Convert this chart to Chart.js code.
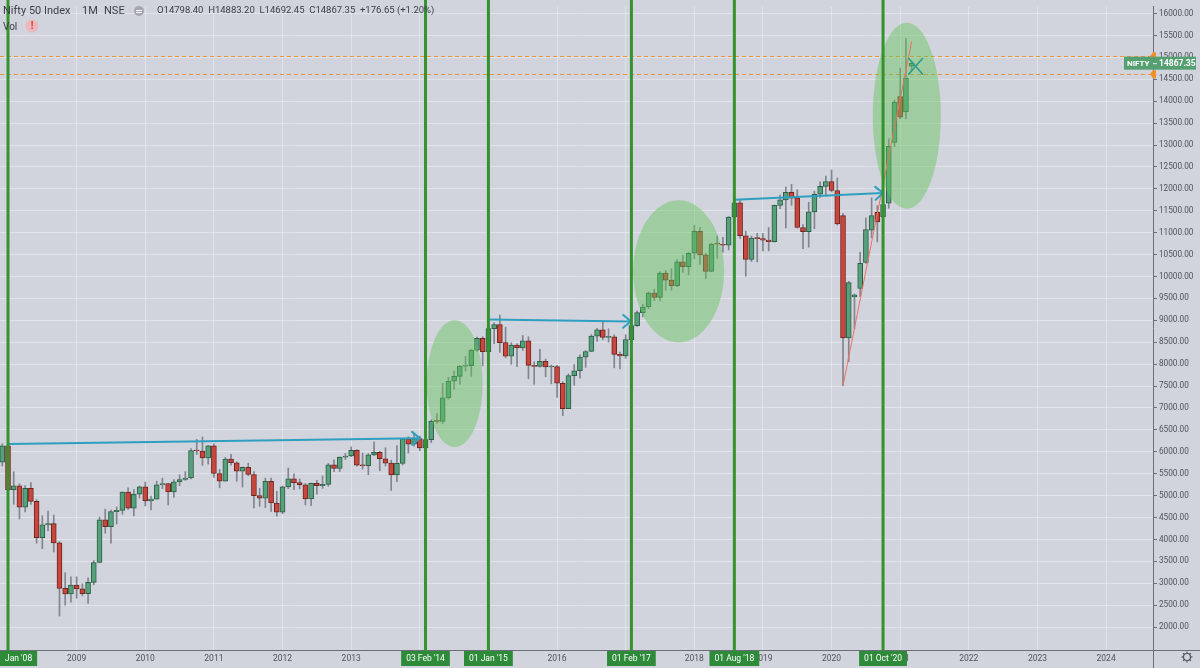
<!DOCTYPE html>
<html><head><meta charset="utf-8">
<script src="https://cdn.jsdelivr.net/npm/chart.js@4.4.0/dist/chart.umd.min.js"></script>
<style>html,body{margin:0;padding:0;background:#d1d4dc;overflow:hidden}#wrap{width:1200px;height:668px;position:relative}canvas{display:block}</style>
</head><body><div id="wrap"><canvas id="c" width="1200" height="668"></canvas></div>
<script>
// Month index 0 = Jan 2008; first candle is Dec 2007 (index -1)
const firstMonth = -1;
const opens = [5762,
6136,5137,5223,4735,5166,4870,4040,4333,4360,3921,2885,2755,
2959,2874,2763,3021,3474,4449,4291,4636,4662,5084,4712,5033,
5201,4882,4922,5249,5278,5087,5313,5368,5402,6030,6018,5863,
6135,5506,5333,5834,5750,5560,5647,5482,5001,4943,5327,4832,
4624,5199,5385,5296,5248,4924,5279,5229,5258,5703,5620,5880,
5905,6035,5693,5683,5930,5986,5842,5742,5471,5735,6299,6176,
6304,6090,6277,6704,6696,7230,7611,7721,7954,7965,8322,8588,
8283,8809,8902,8491,8182,8434,8369,8533,7971,7949,8066,7935,
7946,7564,6987,7738,7850,8160,8288,8639,8786,8611,8626,8224,
8186,8561,8880,9174,9304,9621,9521,10077,9918,9788,10335,10227,
10531,11028,10493,10114,10739,10736,10714,11357,11681,10930,10387,10877,
10863,10831,10793,11624,11748,11923,11789,11118,11023,11474,11877,12056,
12168,11962,11388,8598,9533,9726,10323,11057,11464,11364,11672,13062,
14104,13758,14798.4];
const highs = [6185,
6357,5545,5272,5230,5298,4908,4539,4649,4558,3950,3240,3147,
3147,2987,3123,3518,4509,4693,4670,4743,5087,5181,5138,5221,
5310,4992,5329,5400,5278,5366,5477,5549,6073,6284,6339,6147,
6182,5599,5872,5944,5775,5657,5740,5551,5169,5399,5400,5099,
5217,5629,5499,5379,5279,5286,5349,5448,5735,5815,5885,5965,
6111,6053,5971,5962,6229,6012,6093,5808,6142,6309,6342,6415,
6358,6282,6730,6870,7563,7700,7841,7968,8180,8331,8617,8627,
8996,8941,9119,8844,8490,8468,8655,8622,8055,8336,8116,7979,
7972,7600,7777,7992,8213,8308,8674,8819,8968,8806,8669,8274,
8672,8982,9218,9367,9650,9709,10115,10138,10179,10384,10490,10552,
11171,11117,10525,10759,10929,10893,11366,11760,11752,11035,10922,10985,
10987,11118,11630,11856,12041,12103,11981,11182,11695,11945,12159,12294,
12430,12246,11433,9889,9598,10553,11341,11794,11618,12025,13145,14024,
14754,15432,14883.2];
const lows = [5677,
4448,4803,4468,4628,4802,3918,3790,4201,3715,2252,2502,2571,
2661,2713,2539,2965,3468,4143,3918,4353,4576,4687,4538,4943,
4766,4675,4920,5160,4786,4961,5226,5349,5380,5937,5690,5721,
5416,5178,5330,5693,5328,5196,5453,4720,4758,4728,4639,4531,
4588,5159,5135,5154,4789,4770,5033,5164,5215,5548,5548,5823,
5888,5671,5605,5477,5910,5566,5676,5118,5318,5701,5972,6130,
6027,5933,6212,6650,6638,7200,7422,7540,7841,7723,8290,7961,
8065,8470,8269,8145,7997,7940,8315,7667,7540,7930,7714,7551,
7241,6826,6987,7517,7679,7927,8287,8518,8555,8506,7916,7894,
8133,8537,8860,9075,9270,9448,9448,9686,9687,9770,10094,10033,
10404,10276,9952,10111,10418,10557,10605,11300,10867,10005,10341,10334,
10583,10586,10785,11549,11108,11625,11107,10637,10670,11090,11802,11832,
11929,11175,7511,8055,8806,9544,10299,10882,10790,11347,11557,12962,
13597,13597,14692.45];
const closes = [6139,
5137,5224,4735,5166,4870,4040,4333,4360,3921,2885,2755,2959,
2874,2763,3021,3474,4449,4291,4636,4662,5084,4712,5033,5201,
4882,4922,5249,5278,5087,5313,5368,5402,6030,6018,5863,6135,
5506,5333,5834,5750,5560,5647,5482,5001,4943,5327,4832,4624,
5199,5385,5296,5248,4924,5279,5229,5258,5703,5620,5880,5905,
6035,5693,5683,5930,5986,5842,5742,5471,5735,6299,6176,6304,
6090,6277,6704,6696,7230,7611,7721,7954,7965,8322,8588,8283,
8809,8902,8491,8182,8434,8369,8533,7971,7949,8066,7935,7946,
7564,6987,7738,7850,8160,8288,8639,8786,8611,8626,8224,8186,
8561,8880,9174,9304,9621,9521,10077,9918,9788,10335,10227,10531,
11028,10493,10114,10739,10736,10714,11357,11681,10930,10387,10877,10863,
10831,10793,11624,11748,11923,11789,11118,11023,11474,11877,12056,12168,
11962,11202,8598,9860,9580,10302,11073,11388,11248,11642,12969,13982,
13635,14529,14867.35];

const yearLabels = ['2008','2009','2010','2011','2012','2013','2014','2015','2016','2017','2018','2019','2020','2021','2022','2023','2024'];
const priceTicks = [2000,2500,3000,3500,4000,4500,5000,5500,6000,6500,7000,7500,8000,8500,9000,9500,10000,10500,11000,11500,12000,12500,13000,13500,14000,14500,15000,15500,16000];

// Marked dates (month index, label)
const markerMonths = [0,73,84,109,127,153];
const markerLabels = ["Jan '08","03 Feb '14","01 Jan '15","01 Feb '17","01 Aug '18","01 Oct '20"];

// Horizontal arrows
const arrowStartMonths = [0,84,127];
const arrowStartValues = [6180,9018,11749];
const arrowEndMonths = [72,108.9,153];
const arrowEndValues = [6310,8973,11907];

// Highlight ellipses
const ellipseMonthMin = [73.2,109.3,151.2];
const ellipseMonthMax = [83.0,125.2,163.1];
const ellipseValueMin = [6108,8496,11546];
const ellipseValueMax = [9003,11740,15790];

// Trend line
const trendMonths = [146,158];
const trendValues = [7511,15361];

// Dashed levels
const levelValues = [15023,14616];
const lastPrice = 14867.35;
const markMonth = 158.7, markValue = 14797;

const BG = '#d1d4dc';
const UP = '#56a07c', UP_B = '#2d5e45';
const DN = '#c9463d', DN_B = '#6e2420';
const WICK = '#80858f';
const GREENLINE = '#34932f';
const TEAL = '#2e9fc0';

const bodyData = [], wickData = [];
for (let i = 0; i < closes.length; i++) {
  const m = firstMonth + i;
  bodyData.push({x: m, y: [opens[i], closes[i]]});
  wickData.push({x: m, y: [lows[i], highs[i]]});
}

const FONT = 'Roboto, "Open Sans", sans-serif';

const overlay = {
  id: 'overlay',
  beforeDraw(chart) {
    const c = chart.ctx; c.save(); c.fillStyle = BG; c.fillRect(0, 0, chart.width, chart.height); c.restore();
  },
  afterDatasetsDraw(chart) {
    const {ctx, chartArea: a, scales: {x, y}} = chart;
    ctx.save();
    ctx.beginPath(); ctx.rect(a.left, a.top, a.right - a.left, a.bottom - a.top); ctx.clip();
    ctx.strokeStyle = '#e8953a'; ctx.lineWidth = 1; ctx.setLineDash([4, 3]);
    levelValues.forEach(v => { const py = Math.round(y.getPixelForValue(v)) + 0.5; ctx.beginPath(); ctx.moveTo(a.left, py); ctx.lineTo(a.right, py); ctx.stroke(); });
    ctx.setLineDash([]);
    ctx.fillStyle = 'rgba(100,195,90,0.45)';
    for (let i = 0; i < ellipseMonthMin.length; i++) {
      const x1 = x.getPixelForValue(ellipseMonthMin[i]), x2 = x.getPixelForValue(ellipseMonthMax[i]);
      const y1 = y.getPixelForValue(ellipseValueMax[i]), y2 = y.getPixelForValue(ellipseValueMin[i]);
      ctx.beginPath(); ctx.ellipse((x1 + x2) / 2, (y1 + y2) / 2, (x2 - x1) / 2, (y2 - y1) / 2, 0, 0, Math.PI * 2); ctx.fill();
    }
    ctx.strokeStyle = '#f07060'; ctx.lineWidth = 1;
    ctx.beginPath(); ctx.moveTo(x.getPixelForValue(trendMonths[0]), y.getPixelForValue(trendValues[0]));
    ctx.lineTo(x.getPixelForValue(trendMonths[1]), y.getPixelForValue(trendValues[1])); ctx.stroke();
    ctx.strokeStyle = TEAL; ctx.lineWidth = 2; ctx.lineCap = 'round';
    for (let i = 0; i < arrowStartMonths.length; i++) {
      const x1 = x.getPixelForValue(arrowStartMonths[i]), y1 = y.getPixelForValue(arrowStartValues[i]);
      const x2 = x.getPixelForValue(arrowEndMonths[i]), y2 = y.getPixelForValue(arrowEndValues[i]);
      ctx.beginPath(); ctx.moveTo(x1, y1); ctx.lineTo(x2, y2); ctx.stroke();
      const ang = Math.atan2(y2 - y1, x2 - x1), L = 10, w = 0.7;
      ctx.beginPath();
      ctx.moveTo(x2 - L * Math.cos(ang - w), y2 - L * Math.sin(ang - w));
      ctx.lineTo(x2, y2);
      ctx.lineTo(x2 - L * Math.cos(ang + w), y2 - L * Math.sin(ang + w));
      ctx.stroke();
    }
    const mx = x.getPixelForValue(markMonth), my = y.getPixelForValue(markValue);
    ctx.strokeStyle = '#2a9a8a'; ctx.lineWidth = 1.5;
    ctx.beginPath(); ctx.moveTo(mx - 7, my - 8); ctx.lineTo(mx + 7, my + 8); ctx.moveTo(mx + 7, my - 8); ctx.lineTo(mx - 7, my + 8); ctx.stroke();
    ctx.restore();
  },
  afterDraw(chart) {
    const {ctx, chartArea: a, scales: {x, y}} = chart;
    ctx.save();
    ctx.strokeStyle = '#6b6e78'; ctx.lineWidth = 1;
    ctx.beginPath(); ctx.moveTo(a.right, a.bottom + 0.5); ctx.lineTo(chart.width, a.bottom + 0.5); ctx.stroke();
    ctx.beginPath(); ctx.moveTo(a.right + 0.5, a.bottom); ctx.lineTo(a.right + 0.5, chart.height); ctx.stroke();
    ctx.font = '8.5px ' + FONT; ctx.textBaseline = 'middle'; ctx.textAlign = 'center';
    markerMonths.forEach((m, i) => {
      const px = x.getPixelForValue(m);
      ctx.strokeStyle = GREENLINE; ctx.lineWidth = 3;
      ctx.beginPath(); ctx.moveTo(px, 0); ctx.lineTo(px, a.bottom + 2); ctx.stroke();
      const tw = ctx.measureText(markerLabels[i]).width + 10;
      let bx = px - tw / 2; if (bx < 0) bx = 0;
      ctx.fillStyle = '#2e8b3a'; ctx.fillRect(bx, a.bottom + 1, tw, 15);
      ctx.fillStyle = '#ffffff'; ctx.fillText(markerLabels[i], bx + tw / 2, a.bottom + 9);
    });
    ctx.fillStyle = '#f0902a';
    levelValues.forEach(v => { const py = y.getPixelForValue(v); ctx.beginPath(); ctx.moveTo(a.right - 3, py); ctx.lineTo(a.right, py - 4); ctx.lineTo(a.right + 3, py - 4); ctx.lineTo(a.right + 3, py + 4); ctx.lineTo(a.right, py + 4); ctx.closePath(); ctx.fill(); });
    const lp = y.getPixelForValue(lastPrice);
    ctx.fillStyle = '#55a070'; ctx.fillRect(a.right - 29, lp - 6.5, 72, 13);
    ctx.strokeStyle = '#e8ece9'; ctx.lineWidth = 1; ctx.beginPath(); ctx.moveTo(a.right, lp + 0.5); ctx.lineTo(a.right + 4, lp + 0.5); ctx.stroke();
    ctx.fillStyle = '#ffffff'; ctx.textAlign = 'left';
    ctx.font = 'bold 8px ' + FONT; ctx.fillText('NIFTY', a.right - 26, lp + 0.5);
    ctx.font = 'bold 8.5px ' + FONT; ctx.fillText(lastPrice.toFixed(2), a.right + 6, lp + 0.5);
    ctx.fillStyle = '#3b3e48'; ctx.textBaseline = 'middle';
    ctx.font = '11px ' + FONT; ctx.fillText('Nifty 50 Index', 3, 11);
    ctx.fillText('1M', 82, 11); ctx.fillText('NSE', 104, 11);
    ctx.fillStyle = '#a3a6b0'; ctx.beginPath(); ctx.arc(139, 11, 5, 0, Math.PI * 2); ctx.fill();
    ctx.strokeStyle = '#ffffff'; ctx.lineWidth = 1; ctx.beginPath(); ctx.moveTo(136, 10.5); ctx.lineTo(142, 10.5); ctx.moveTo(136, 12.5); ctx.lineTo(142, 12.5); ctx.stroke();
    ctx.fillStyle = '#3b3e48'; ctx.font = '9.5px ' + FONT;
    ctx.fillText('O14798.40  H14883.20  L14692.45  C14867.35  +176.65 (+1.20%)', 157, 11);
    ctx.font = '10px ' + FONT; ctx.fillText('Vol', 3, 27);
    ctx.fillStyle = '#eab8bd'; ctx.beginPath(); ctx.arc(32, 26, 6.5, 0, Math.PI * 2); ctx.fill();
    ctx.fillStyle = '#e03a3a'; ctx.font = 'bold 10px ' + FONT; ctx.textAlign = 'center'; ctx.fillText('!', 32, 26.5);
    const gx = 1187, gy = 657;
    ctx.strokeStyle = '#50535e'; ctx.lineWidth = 1.2;
    ctx.beginPath(); ctx.arc(gx, gy, 3.5, 0, Math.PI * 2); ctx.stroke();
    for (let k = 0; k < 8; k++) { const an = k * Math.PI / 4; ctx.beginPath(); ctx.moveTo(gx + 3.5 * Math.cos(an), gy + 3.5 * Math.sin(an)); ctx.lineTo(gx + 5.5 * Math.cos(an), gy + 5.5 * Math.sin(an)); ctx.stroke(); }
    ctx.restore();
  }
};

new Chart(document.getElementById('c'), {
  type: 'bar',
  data: {
    datasets: [
      {label: 'wick', data: wickData, backgroundColor: WICK, borderWidth: 0, barThickness: 1, grouped: false, order: 2},
      {label: 'body', data: bodyData, grouped: false, order: 1, barThickness: 5, borderWidth: 1, borderSkipped: false, minBarLength: 1,
        backgroundColor: ctx => { const i = ctx.dataIndex; return closes[i] >= opens[i] ? UP : DN; },
        borderColor: ctx => { const i = ctx.dataIndex; return closes[i] >= opens[i] ? UP_B : DN_B; }}
    ]
  },
  options: {
    responsive: false, animation: false, devicePixelRatio: 1,
    layout: {padding: 0},
    plugins: {legend: {display: false}, tooltip: {enabled: false}},
    scales: {
      x: {
        type: 'linear', position: 'bottom', min: -1.4, max: 200.2, offset: false,
        afterBuildTicks: s => { s.ticks = yearLabels.map((l, i) => ({value: i * 12})); },
        afterFit: s => { s.height = 18; },
        grid: {color: 'rgba(236,238,243,0.55)', drawTicks: false, offset: false},
        border: {display: true, color: '#6b6e78'},
        ticks: {autoSkip: false, maxRotation: 0, padding: 4, color: '#50535e', font: {family: FONT, size: 8.5},
          callback: v => v === 0 ? '' : yearLabels[Math.round(v / 12)]}
      },
      y: {
        type: 'linear', position: 'right', min: 1478, max: 16151,
        afterBuildTicks: s => { s.ticks = priceTicks.map(v => ({value: v})); },
        afterFit: s => { s.width = 47; },
        grid: {color: 'rgba(236,238,243,0.55)', tickColor: '#6b6e78', tickLength: 4},
        border: {display: true, color: '#6b6e78'},
        ticks: {padding: 2, color: '#50535e', font: {family: FONT, size: 8.2}, callback: v => Number(v).toFixed(2)}
      }
    }
  },
  plugins: [overlay]
});
</script></body></html>
